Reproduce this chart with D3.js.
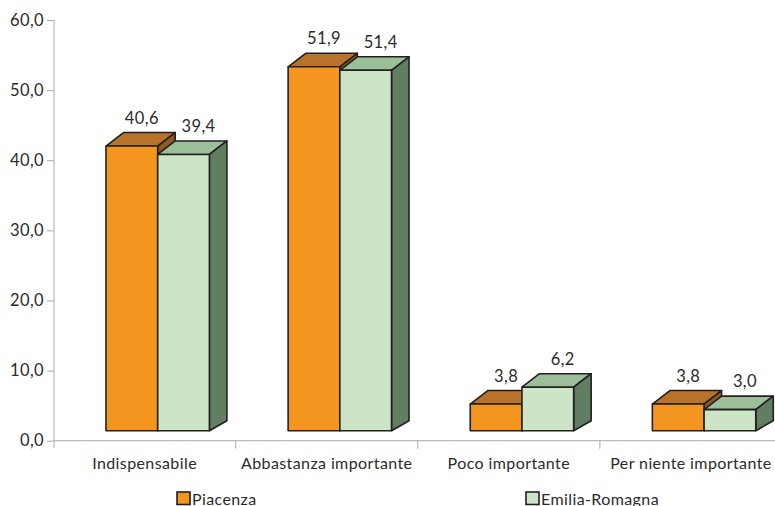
<!DOCTYPE html>
<html>
<head>
<meta charset="utf-8">
<script src="https://cdn.jsdelivr.net/npm/d3@7"></script>
<style>
  html, body { margin: 0; padding: 0; background: #fff; }
  svg { display: block; font-family: Lato, "Open Sans", sans-serif; }
</style>
</head>
<body>
<svg id="chart" width="775" height="506"></svg>
<script>
// Importanza attribuita: Piacenza vs Emilia-Romagna (%)
const categories = ["Indispensabile", "Abbastanza importante", "Poco importante", "Per niente importante"];
const seriesNames = ["Piacenza", "Emilia-Romagna"];
const piacenza = [40.6, 51.9, 3.8, 3.8];
const emiliaRomagna = [39.4, 51.4, 6.2, 3.0];
const yTicks = [0, 10, 20, 30, 40, 50, 60];

const seriesValues = [piacenza, emiliaRomagna];
const palette = [
  { front: "#F4951F", top: "#B8722A", side: "#8C5A22" },
  { front: "#CCE5C6", top: "#9BBF99", side: "#627E62" }
];
const textColor = "#2b2b2b";

const svg = d3.select("#chart");
const fmt = v => d3.format(".1f")(v).replace(".", ",");

const x = d3.scaleBand().domain(categories).range([53.5, 782]).padding(0);
const y = d3.scaleLinear().domain([0, 60]).range([440.7, 20]);

// Oblique projection of the bar depth
const lift = 10;          // front faces sit above the floor line
const depthX = 17.5;
const depthTopY = 13.5;
const depthBottomY = 10;
const barW = 51.7;
const groupOffset = 52.5;
const labelShift = [10, 15];

// Y axis
const yAxis = d3.axisLeft(y).tickValues(yTicks).tickSize(7).tickPadding(3).tickFormat(fmt);
const gy = svg.append("g").attr("transform", "translate(54,0)").call(yAxis);
gy.select(".domain").attr("d", "M0,20V448").attr("stroke", "#aaa").attr("fill", "none");
gy.selectAll(".tick line").attr("stroke", "#aaa");
gy.selectAll(".tick text").attr("font-size", 16.5).attr("fill", textColor)
  .attr("font-family", "Lato, sans-serif").attr("letter-spacing", 0.4);

// X axis (ticks at category boundaries)
const gx = svg.append("g").attr("transform", "translate(0,440.7)");
gx.append("line").attr("x1", 54).attr("x2", 775).attr("y1", 0).attr("y2", 0).attr("stroke", "#aaa");
gx.selectAll("line.tk").data(categories.slice(1)).join("line")
  .attr("class", "tk")
  .attr("x1", d => x(d)).attr("x2", d => x(d))
  .attr("y1", 0).attr("y2", 8).attr("stroke", "#aaa");
gx.selectAll("text").data(categories).join("text")
  .attr("x", d => x(d) + x.bandwidth() / 2)
  .attr("y", 28.6)
  .attr("text-anchor", "middle")
  .attr("font-size", 16)
  .attr("letter-spacing", 0.4)
  .attr("fill", textColor)
  .text(d => d);

// 3D bars
const bars = svg.append("g");
categories.forEach((cat, ci) => {
  seriesValues.forEach((vals, si) => {
    const v = vals[ci];
    const x0 = x(cat) + groupOffset + si * barW;
    const x1 = x0 + barW;
    const yb = y(0) - lift;
    const yt = y(v) - lift;
    const c = palette[si];
    const g = bars.append("g")
      .attr("stroke", "#231f20").attr("stroke-width", 1.6).attr("stroke-linejoin", "round");
    // top face
    g.append("path")
      .attr("d", `M${x0},${yt}L${x0 + depthX},${yt - depthTopY}L${x1 + depthX},${yt - depthTopY}L${x1},${yt}Z`)
      .attr("fill", c.top);
    // side face
    g.append("path")
      .attr("d", `M${x1},${yt}L${x1 + depthX},${yt - depthTopY}L${x1 + depthX},${yb - depthBottomY}L${x1},${yb}Z`)
      .attr("fill", c.side);
    // front face
    g.append("rect")
      .attr("x", x0).attr("y", yt).attr("width", barW).attr("height", yb - yt)
      .attr("fill", c.front);
    // value label
    svg.append("text")
      .attr("x", x0 + barW / 2 + labelShift[si])
      .attr("y", yt - depthTopY - 9)
      .attr("text-anchor", "middle")
      .attr("font-size", 16.5)
      .attr("letter-spacing", 0.4)
      .attr("fill", textColor)
      .text(fmt(v));
  });
});

// Legend
const legendX = [177, 526];
const legend = svg.append("g");
seriesNames.forEach((name, i) => {
  legend.append("rect")
    .attr("x", legendX[i]).attr("y", 492).attr("width", 13).attr("height", 12.5)
    .attr("fill", palette[i].front).attr("stroke", "#231f20").attr("stroke-width", 1.6);
  legend.append("text")
    .attr("x", legendX[i] + 15).attr("y", 504.5)
    .attr("font-size", 16).attr("letter-spacing", 0.4).attr("fill", textColor)
    .text(name);
});
</script>
</body>
</html>
